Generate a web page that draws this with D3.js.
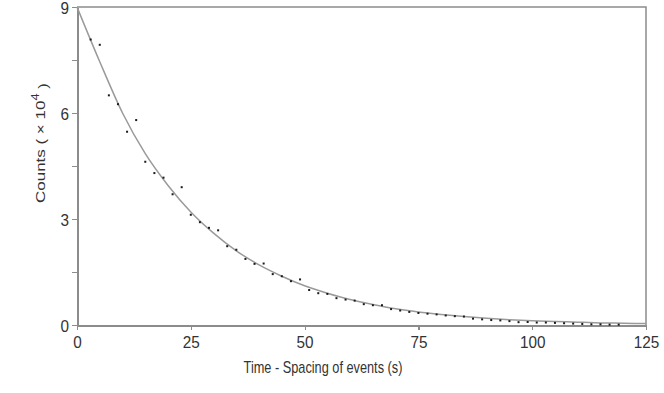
<!DOCTYPE html>
<html>
<head>
<meta charset="utf-8">
<script src="https://cdn.jsdelivr.net/npm/d3@7/dist/d3.min.js"></script>
<style>
    body { margin: 0; background: #fff; }
    text { font-family: "Liberation Sans", Arial, sans-serif; fill: #333; }
</style>
</head>
<body>
<div id="chart"></div>
<script>
// measured points (time in s, counts in 1e4)
var times = [3, 5, 7, 9, 11, 13, 15, 17, 19, 21, 23, 25, 27, 29, 31, 33, 35, 37, 39, 41,
    43, 45, 47, 49, 51, 53, 55, 57, 59, 61, 63, 65, 67, 69, 71, 73, 75, 77, 79, 81,
    83, 85, 87, 89, 91, 93, 95, 97, 99, 101, 103, 105, 107, 109, 111, 113, 115, 117, 119];
var counts = [8.08, 7.93, 6.50, 6.25, 5.47, 5.80, 4.62, 4.30, 4.17, 3.70, 3.90, 3.12, 2.91, 2.75, 2.68, 2.23, 2.13, 1.87, 1.73, 1.74,
    1.44, 1.38, 1.24, 1.29, 0.99, 0.90, 0.88, 0.76, 0.72, 0.69, 0.59, 0.56, 0.56, 0.45, 0.41, 0.37, 0.34, 0.32, 0.30, 0.27,
    0.25, 0.24, 0.18, 0.16, 0.14, 0.13, 0.11, 0.08, 0.085, 0.07, 0.07, 0.06, 0.05, 0.04, 0.03, 0.02, 0.02, 0.01, 0.01];

// fitted curve, every 5 s
var fitTimes = [0, 5, 10, 15, 20, 25, 30, 35, 40, 45, 50, 55, 60, 65, 70, 75, 80, 85, 90, 95, 100, 105, 110, 115, 120, 125];
var fitCounts = [9.00, 7.45, 6.00, 4.85, 3.95, 3.20, 2.60, 2.10, 1.70, 1.38, 1.11, 0.90, 0.72, 0.58, 0.46, 0.37, 0.30, 0.24, 0.19, 0.15, 0.12, 0.10, 0.08, 0.06, 0.05, 0.04];

var xTicks = [0, 25, 50, 75, 100, 125];
var yTicks = [0, 1.5, 3, 4.5, 6, 7.5, 9];
var yLabels = [0, 3, 6, 9];

var margin = { top: 7, right: 18, bottom: 68, left: 77 },
    width = 664 - margin.left - margin.right,
    height = 393 - margin.top - margin.bottom;
var squeeze = 0.75, tickSqueeze = 0.9;
var axisColor = "#8c8c8c";

var svg = d3.select("#chart").append("svg")
    .attr("width", 664)
    .attr("height", 393);
var g = svg.append("g")
    .attr("transform", "translate(" + margin.left + "," + margin.top + ")");

var x = d3.scaleLinear().domain([0, 125]).range([0, width]);
var y = d3.scaleLinear().domain([0, 9]).range([height, 0]);

// frame (top + right)
g.append("path")
    .attr("d", "M0,0H" + width + "V" + height)
    .attr("fill", "none")
    .attr("stroke", axisColor)
    .attr("stroke-width", 1.5);

// x axis
var xAxis = g.append("g")
    .attr("transform", "translate(0," + height + ")")
    .call(d3.axisBottom(x).tickValues(xTicks).tickSize(5).tickSizeOuter(0).tickFormat(d3.format("d")));
xAxis.select(".domain").attr("stroke", axisColor).attr("stroke-width", 2);
xAxis.selectAll(".tick line").attr("stroke", axisColor).attr("stroke-width", 1.2);
xAxis.selectAll(".tick text")
    .attr("y", 23)
    .attr("dy", null)
    .attr("transform", "scale(" + tickSqueeze + ",1)")
    .style("font-size", "17px")
    .attr("fill", "#333");

// y axis
var yAxis = g.append("g")
    .call(d3.axisLeft(y).tickValues(yTicks).tickSize(5).tickSizeOuter(0)
        .tickFormat(function (d) { return yLabels.indexOf(d) > -1 ? d : ""; }));
yAxis.select(".domain").attr("stroke", axisColor).attr("stroke-width", 2);
yAxis.selectAll(".tick line").attr("stroke", axisColor).attr("stroke-width", 1.2);
yAxis.selectAll(".tick text")
    .attr("x", -8 / tickSqueeze)
    .attr("dy", "0.36em")
    .attr("transform", "scale(" + tickSqueeze + ",1)")
    .style("font-size", "17px")
    .attr("fill", "#333");
g.selectAll(".domain, .tick line").attr("shape-rendering", "crispEdges");

// fitted curve
var line = d3.line()
    .x(function (d) { return x(d[0]); })
    .y(function (d) { return y(d[1]); })
    .curve(d3.curveMonotoneX);
g.append("path")
    .datum(d3.zip(fitTimes, fitCounts))
    .attr("d", line)
    .attr("fill", "none")
    .attr("stroke", "#9a9a9a")
    .attr("stroke-width", 1.5);

// data points
g.selectAll(".pt")
    .data(d3.zip(times, counts))
    .enter().append("rect")
    .attr("class", "pt")
    .attr("x", function (d) { return x(d[0]) - 1; })
    .attr("y", function (d) { return y(d[1]) - 1; })
    .attr("width", 2)
    .attr("height", 2)
    .attr("fill", "#1a1a1a");

// axis titles
svg.append("text")
    .attr("transform", "translate(323,373) scale(" + squeeze + ",1)")
    .attr("text-anchor", "middle")
    .style("font-size", "17px")
    .text("Time - Spacing of events (s)");

var yt = svg.append("text")
    .attr("transform", "translate(45,143) rotate(-90) scale(1,0.8)")
    .attr("text-anchor", "middle")
    .style("font-size", "17px");
yt.append("tspan").text("Counts ( \u00d7 10");
yt.append("tspan").attr("dy", "-0.55em").style("font-size", "13px").text("4");
yt.append("tspan").attr("dy", "0.55em").text(" )");
</script>
</body>
</html>
